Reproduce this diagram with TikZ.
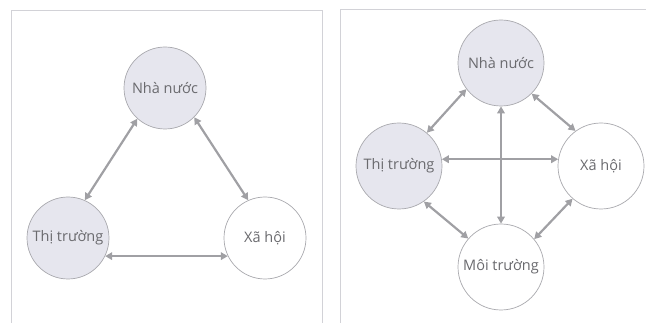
\documentclass[tikz,border=0pt]{standalone}
\usepackage{fontspec}
\setmainfont{Open Sans}
\usetikzlibrary{arrows.meta}
\definecolor{framec}{HTML}{D2D2D7}
\definecolor{ringc}{HTML}{A9A9AE}
\definecolor{fillc}{HTML}{E6E6EE}
\definecolor{linkc}{HTML}{A0A0A4}
\definecolor{textc}{HTML}{6A6A6E}
\tikzset{
  actor/.style={circle, draw=ringc, line width=0.7pt, inner sep=0pt,
    text=textc, font=\fontsize{14.5}{16}\selectfont},
  shaded/.style={actor, fill=fillc},
  plain/.style={actor, fill=white},
  small/.style={minimum size=82pt},
  big/.style={minimum size=86pt},
  link/.style={draw=linkc, line width=2.2pt,
    {Triangle[length=7pt,width=7.5pt]}-{Triangle[length=7pt,width=7.5pt]}},
  panel/.style={draw=framec, line width=0.8pt}
}
\begin{document}
\begin{tikzpicture}[x=1pt, y=-1pt]
\useasboundingbox (0,0) rectangle (646,323);
% panel frames
\draw[panel] (11,10) rectangle (322,330);
\draw[panel] (340,9) rectangle (660,330);

% three-actor triangle
\node[shaded, small] (nn1) at (165,88)  {Nhà nước};
\node[shaded, small] (tt1) at (68,238)  {Thị trường};
\node[plain,  small] (xh1) at (265,238) {Xã hội};
\draw[link] (nn1.228) -- (tt1.66);
\draw[link] (nn1.315) -- (xh1.114);
\draw[link] (tt1.-26) -- (xh1.206);

% four-actor diamond
\node[shaded, big] (nn2) at (501,63)  {Nhà nước};
\node[shaded, big] (tt2) at (399,166) {Thị trường};
\node[plain,  big] (xh2) at (601,166) {Xã hội};
\node[plain,  big] (mt2) at (501,267) {Môi trường};
\draw[link] (nn2.217) -- (tt2.50);
\draw[link] (nn2.315) -- (xh2.126);
\draw[link] (nn2.south) -- (mt2.north);
\draw[link] (tt2.9) -- (xh2.171);
\draw[link] (tt2.305) -- (mt2.139);
\draw[link] (xh2.229) -- (mt2.40);
\end{tikzpicture}
\end{document}
